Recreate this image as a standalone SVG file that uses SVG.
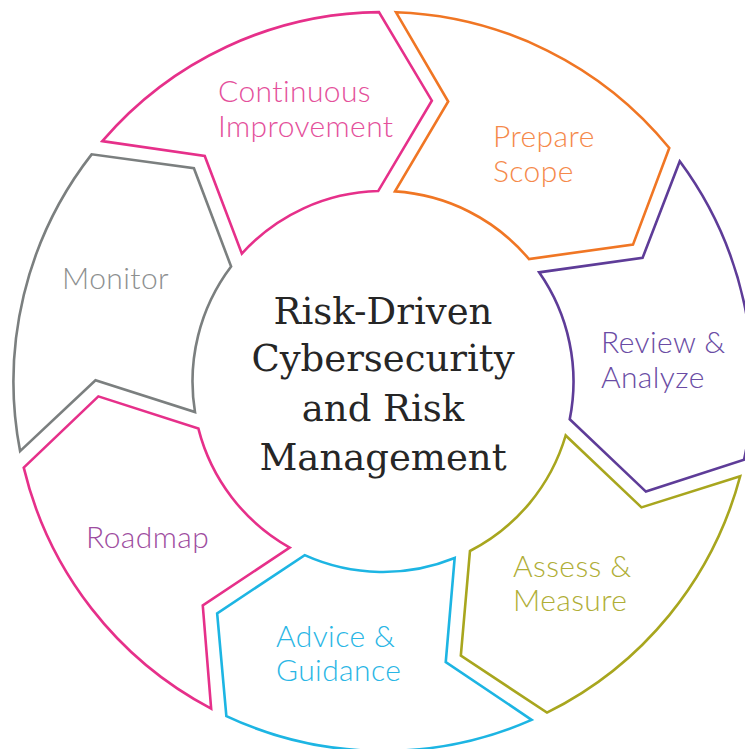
<svg xmlns="http://www.w3.org/2000/svg" xmlns:xlink="http://www.w3.org/1999/xlink" width="745" height="749" viewBox="0 0 745 749">
<style>
.seg{fill:#fff;stroke-width:2.6;stroke-linejoin:miter}
.lbl{font-family:Lato,"Open Sans","Liberation Sans",sans-serif;font-weight:300;font-size:30px;letter-spacing:0.4px}
.title{font-family:"DejaVu Serif","Liberation Serif",serif;font-size:37px;fill:#262626;text-anchor:middle}
</style>
<defs>
<path id="seg" d="M 395.9 12.2 L 448.2 101.5 L 395.0 191.4 A 190.5 190.5 0 0 1 528.9 259.0 L 633.0 244.6 L 669.3 148.0 A 369.5 369.5 0 0 0 395.9 12.2 Z"/>
</defs>
<rect width="745" height="749" fill="#fff"/>
<g id="prepare-scope">
<use xlink:href="#seg" class="seg" stroke="#F07624"/>
<text class="lbl" fill="#F5894A"><tspan x="493" y="147">Prepare</tspan><tspan x="493" y="182">Scope</tspan></text>
</g>
<g id="review-analyze">
<use xlink:href="#seg" class="seg" stroke="#5E3C98" transform="rotate(51.4286 383 381.5)"/>
<text class="lbl" fill="#6A4CA4"><tspan x="601" y="353">Review &amp;</tspan><tspan x="601" y="388">Analyze</tspan></text>
</g>
<g id="assess-measure">
<use xlink:href="#seg" class="seg" stroke="#A8A61E" transform="rotate(102.8571 383 381.5)"/>
<text class="lbl" fill="#B0AE36"><tspan x="513" y="577">Assess &amp;</tspan><tspan x="513" y="611">Measure</tspan></text>
</g>
<g id="advice-guidance">
<use xlink:href="#seg" class="seg" stroke="#1DB5E3" transform="rotate(154.2857 383 381.5)"/>
<text class="lbl" fill="#29B6E5"><tspan x="276" y="647">Advice &amp;</tspan><tspan x="276" y="681">Guidance</tspan></text>
</g>
<g id="roadmap">
<use xlink:href="#seg" class="seg" stroke="#E6308A" transform="rotate(205.7143 383 381.5)"/>
<text class="lbl" fill="#9E4DA0" x="86" y="548">Roadmap</text>
</g>
<g id="monitor">
<use xlink:href="#seg" class="seg" stroke="#7B7F7F" transform="rotate(257.1429 383 381.5)"/>
<text class="lbl" fill="#8D9090" x="62" y="289">Monitor</text>
</g>
<g id="continuous-improvement">
<use xlink:href="#seg" class="seg" stroke="#E6308A" transform="rotate(308.5714 383 381.5)"/>
<text class="lbl" fill="#E4509B"><tspan x="218" y="102">Continuous</tspan><tspan x="218" y="137">Improvement</tspan></text>
</g>
<g id="center">
<text class="title"><tspan x="383" y="324">Risk-Driven</tspan><tspan x="383" y="371">Cybersecurity</tspan><tspan x="383" y="421">and Risk</tspan><tspan x="383" y="470">Management</tspan></text>
</g>
<g id="connectors"/>
</svg>
